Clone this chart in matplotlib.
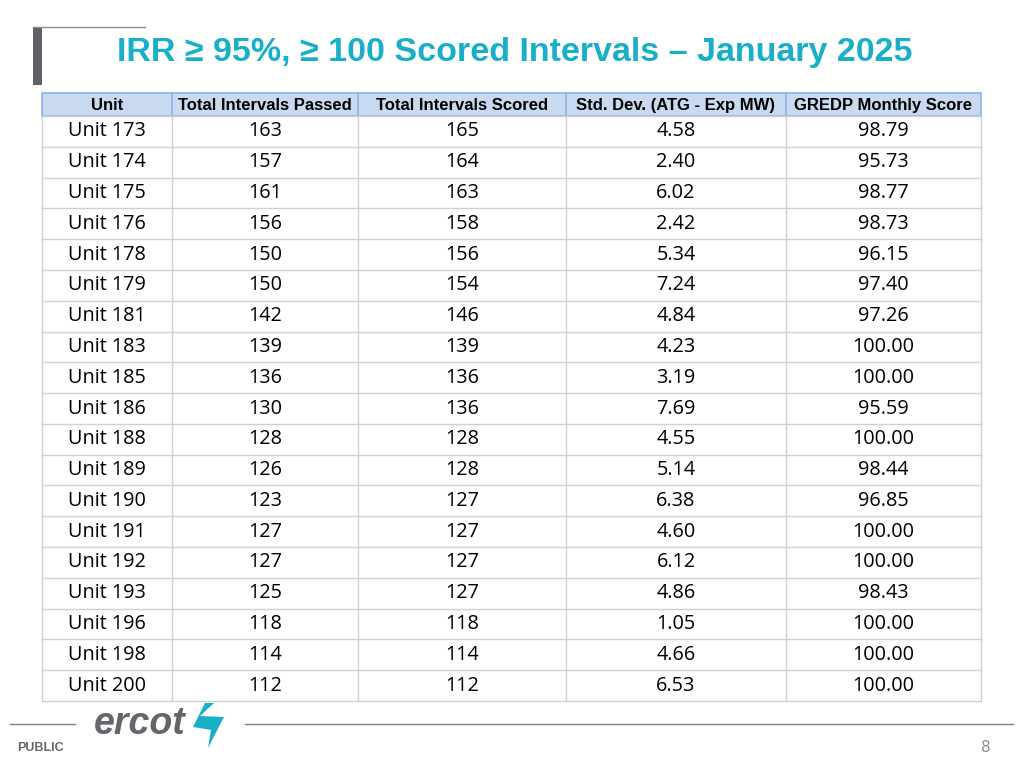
import matplotlib.pyplot as plt
from matplotlib.patches import Rectangle, Polygon

units = ["Unit 173", "Unit 174", "Unit 175", "Unit 176", "Unit 178", "Unit 179", "Unit 181",
         "Unit 183", "Unit 185", "Unit 186", "Unit 188", "Unit 189", "Unit 190", "Unit 191",
         "Unit 192", "Unit 193", "Unit 196", "Unit 198", "Unit 200"]
passed = [163, 157, 161, 156, 150, 150, 142, 139, 136, 130, 128, 126, 123, 127, 127, 125, 118, 114, 112]
scored = [165, 164, 163, 158, 156, 154, 146, 139, 136, 136, 128, 128, 127, 127, 127, 127, 118, 114, 112]
std_dev = [4.58, 2.40, 6.02, 2.42, 5.34, 7.24, 4.84, 4.23, 3.19, 7.69, 4.55, 5.14, 6.38, 4.60,
           6.12, 4.86, 1.05, 4.66, 6.53]
gredp = [98.79, 95.73, 98.77, 98.73, 96.15, 97.40, 97.26, 100.00, 100.00, 95.59, 100.00, 98.44,
         96.85, 100.00, 100.00, 98.43, 100.00, 100.00, 100.00]
headers = ["Unit", "Total Intervals Passed", "Total Intervals Scored",
           "Std. Dev. (ATG - Exp MW)", "GREDP Monthly Score"]

teal = '#1AAFC8'
fig = plt.figure(figsize=(10.24, 7.68), dpi=100)
ax = fig.add_axes([0, 0, 1, 1])
ax.set_xlim(0, 1024)
ax.set_ylim(768, 0)
ax.axis('off')

# title bracket
ax.add_patch(Rectangle((33, 27), 9, 58, color='#5F6368', lw=0))
ax.plot([33, 145], [27, 27], color='#8A8D90', lw=1)
ax.text(515, 52, "IRR ≥ 95%, ≥ 100 Scored Intervals – January 2025", color=teal,
        fontsize=24.5, fontweight='bold', ha='center', va='center', family='Liberation Sans')

cols = [42, 172, 358, 566, 786, 981]
top, head_bot, bottom = 93, 116, 701
row_h = (bottom - head_bot) / len(units)

ax.add_patch(Rectangle((cols[0], top), cols[-1] - cols[0], head_bot - top,
                       facecolor='#C9DAF0', edgecolor='#8DB3E2', lw=1.2))
for i, h in enumerate(headers):
    ax.text((cols[i] + cols[i + 1]) / 2, (top + head_bot) / 2 + 1, h, fontsize=12,
            fontweight='bold', ha='center', va='center', family='Liberation Sans')
    if 0 < i:
        ax.plot([cols[i], cols[i]], [top, head_bot], color='#8DB3E2', lw=1.2)

grid = '#D0D0D0'
for r in range(len(units) + 1):
    y = head_bot + r * row_h
    ax.plot([cols[0], cols[-1]], [y, y], color=grid, lw=1)
for x in cols:
    ax.plot([x, x], [head_bot, bottom], color=grid, lw=1)

for r in range(len(units)):
    yc = head_bot + (r + 0.5) * row_h
    vals = [units[r], str(passed[r]), str(scored[r]), f"{std_dev[r]:.2f}", f"{gredp[r]:.2f}"]
    for i, v in enumerate(vals):
        ax.text((cols[i] + cols[i + 1]) / 2, yc, v, fontsize=14.3, ha='center', va='center',
                family='Open Sans')

# footer
ax.plot([10, 75], [724, 724], color='#7F7F7F', lw=1)
ax.plot([245, 1013], [724, 724], color='#7F7F7F', lw=1)
ax.text(94, 724, "ercot", fontsize=27, fontweight='bold', style='italic', color='#63666A',
        ha='left', va='center', family='Liberation Sans')
ax.add_patch(Polygon([[205, 703], [214, 703], [200, 716], [224, 717], [208, 748], [211, 730],
                      [193, 727]], closed=True, facecolor=teal, edgecolor='none'))
ax.text(17, 748, "PUBLIC", fontsize=9, fontweight='bold', color='#63666A', ha='left',
        va='center', family='Liberation Sans')
ax.text(986, 748, "8", fontsize=11, color='#8A8D90', ha='center', va='center')

plt.savefig("out.png", dpi=100)
